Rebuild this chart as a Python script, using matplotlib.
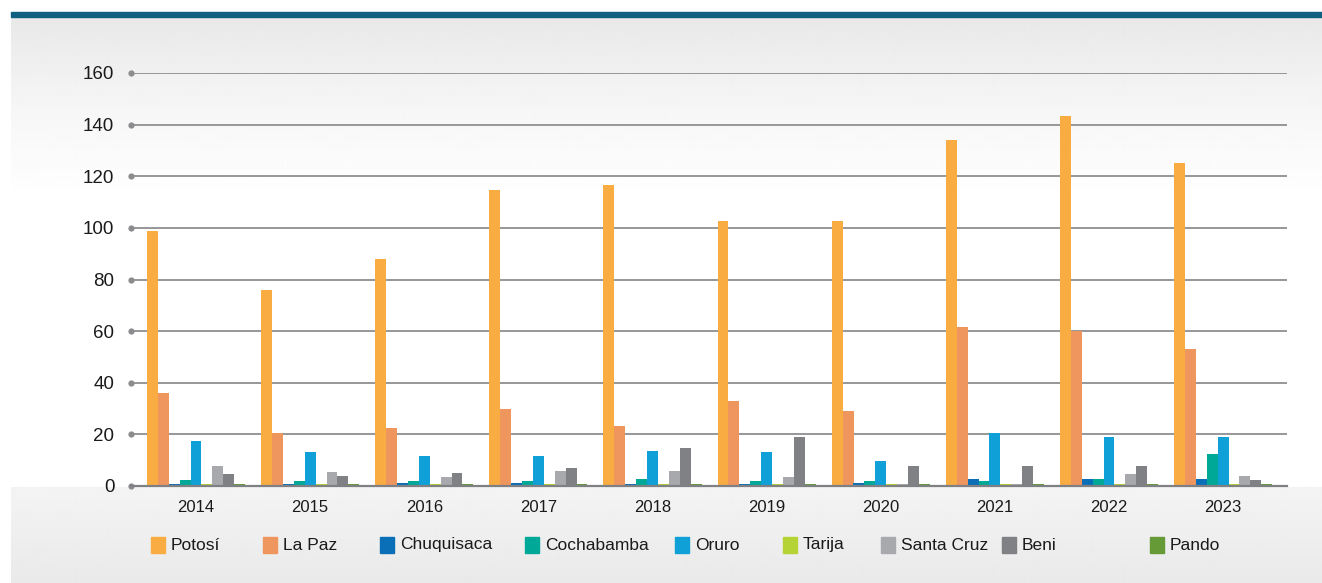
import numpy as np
import matplotlib
matplotlib.use('Agg')
from matplotlib import pyplot as plt
from matplotlib.patches import Rectangle

plt.rcParams['font.family'] = ['Liberation Sans', 'DejaVu Sans']

# data
years = ['2014', '2015', '2016', '2017', '2018', '2019', '2020', '2021', '2022', '2023']
departments = ['Potosí', 'La Paz', 'Chuquisaca', 'Cochabamba', 'Oruro',
               'Tarija', 'Santa Cruz', 'Beni', 'Pando']

potosi = [98.6, 76.1, 87.8, 114.6, 116.5, 102.5, 102.5, 134.0, 143.3, 125.0]
la_paz = [36.1, 20.6, 22.5, 29.9, 23.3, 33.0, 29.1, 61.7, 60.0, 53.2]
chuquisaca = [0.8, 0.8, 1.0, 1.2, 0.9, 0.9, 1.3, 2.7, 2.7, 2.7]
cochabamba = [2.3, 1.9, 1.9, 1.9, 2.7, 1.9, 1.9, 1.9, 2.7, 12.4]
oruro = [17.5, 13.2, 11.7, 11.7, 13.6, 13.2, 9.7, 20.6, 19.0, 19.0]
tarija = [0.7, 0.7, 0.7, 0.7, 0.7, 0.7, 0.7, 0.7, 0.7, 0.7]
santa_cruz = [7.8, 5.4, 3.4, 5.8, 5.8, 3.4, 0.8, 0.8, 4.6, 3.9]
beni = [4.6, 3.9, 5.0, 7.0, 14.7, 19.0, 7.8, 7.8, 7.8, 2.3]
pando = [0.7, 0.7, 0.7, 0.7, 0.7, 0.7, 0.7, 0.7, 0.7, 0.7]

series = [potosi, la_paz, chuquisaca, cochabamba, oruro, tarija, santa_cruz, beni, pando]
colors = ['#f9ac42', '#ef955e', '#0b6fb8', '#00a898', '#0fa0d8',
          '#b5d334', '#a8a9ac', '#808184', '#659a37']

W, H = 1322, 583
fig = plt.figure(figsize=(W / 100, H / 100), dpi=100)
fig.patch.set_facecolor('white')

# background panel with soft vertical gradient
bg = fig.add_axes([11 / W, 0, 1 - 11 / W, (H - 17) / H], zorder=0)
rows = np.arange(17, H)
shade = np.interp(rows, [17, 110, 200, 486, 487, 583],
                  [0.910, 0.965, 1.0, 1.0, 0.955, 0.915])
bg.imshow(shade[:, None] * np.ones((1, 10)), cmap='gray', vmin=0, vmax=1,
          aspect='auto', extent=[0, 1, 0, 1], interpolation='bilinear')
bg.axis('off')

# dark teal strip on top
fig.add_artist(Rectangle((11 / W, (H - 17) / H), 1 - 11 / W, 5 / H,
                         transform=fig.transFigure, color='#0f5f80', zorder=1))

ax = fig.add_axes([131 / W, (H - 486) / H, (1287 - 131) / W, (486 - 73) / H], zorder=2)
ax.set_facecolor('none')

x = np.arange(len(years))
bw = 0.0955
for i, (vals, c) in enumerate(zip(series, colors)):
    ax.bar(x + (i - 4) * bw, vals, width=bw, color=c, zorder=3, linewidth=0)

ax.set_xlim(-0.57, 9.56)
ax.set_ylim(0, 160)
ax.set_yticks(range(0, 161, 20))
ax.set_xticks(x)
ax.set_xticklabels(years, fontsize=12, color='#1a1a1a')
ax.tick_params(axis='x', length=0, pad=10)
ax.tick_params(axis='y', labelsize=13.5, labelcolor='#1a1a1a', pad=12, length=0)

for t in ax.yaxis.get_major_ticks():
    t.tick1line.set_marker('o')
    t.tick1line.set_markersize(4.5)
    t.tick1line.set_color('#8c8c8e')
    t.tick1line.set_markeredgewidth(0)

ax.grid(axis='y', color='#8f8f91', linewidth=1.3, zorder=1)
ax.set_axisbelow(True)
for s in ['top', 'right', 'left']:
    ax.spines[s].set_visible(False)
ax.spines['bottom'].set_color('#7f8083')
ax.spines['bottom'].set_linewidth(1.6)
ax.spines['bottom'].set_zorder(4)

# legend laid out like the original (irregular spacing)
leg_x = [151, 263, 380, 525, 675, 783, 881, 1002, 1150]
leg_y = 545
for name, c, px in zip(departments, colors, leg_x):
    fig.add_artist(Rectangle((px / W, (H - leg_y - 8) / H), 14 / W, 16 / H,
                             transform=fig.transFigure, color=c, zorder=5))
    fig.text((px + 20) / W, (H - leg_y) / H, name, fontsize=12.5,
             color='#1a1a1a', va='center', ha='left', zorder=5)

fig.savefig('out.png', dpi=100, facecolor=fig.get_facecolor())
